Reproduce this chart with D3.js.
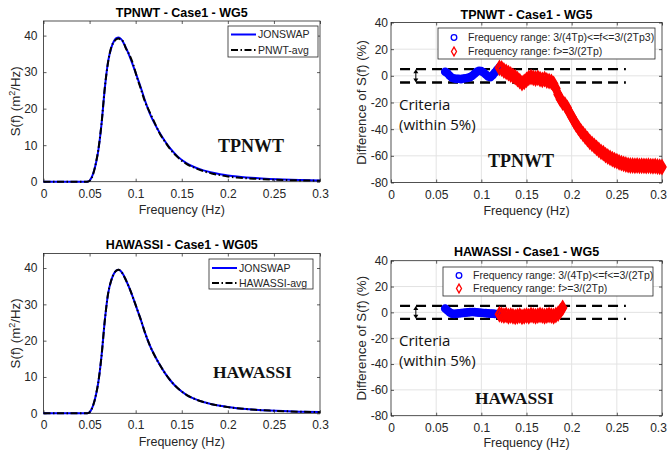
<html>
<head>
<meta charset="utf-8">
<style>
  body { margin: 0; padding: 0; background: #fff; }
  svg { font-family: "Liberation Sans", Arial, sans-serif; }
  .tick text { fill: #262626; font-size: 12px; }
  .tick line { stroke: #262626; stroke-width: 0.75; }
</style>
</head>
<body>
<svg id="fig" width="669" height="451"></svg>
<script src="https://d3js.org/d3.v7.min.js"></script>
<script>
// ---- spectra (left panels) ----
var freqS = [0, 0.02, 0.04, 0.046, 0.0485, 0.051, 0.054, 0.057, 0.0595, 0.063, 0.0665, 0.07, 0.0735,
  0.0765, 0.079, 0.0815, 0.084, 0.0865, 0.089, 0.093, 0.0975, 0.1015, 0.105, 0.11, 0.1155, 0.121,
  0.1265, 0.132, 0.1375, 0.146, 0.155, 0.164, 0.1735, 0.1825, 0.1915, 0.2, 0.21, 0.22, 0.23, 0.245,
  0.26, 0.28, 0.3];
var jonswapS = [0, 0, 0, 0, 0.05, 0.6, 2.3, 5.2, 8.6, 15.9, 25.5, 32.8, 36.6,
  38.5, 39.3, 39.5, 39.1, 38.2, 36.9, 34.6, 31.6, 28.7, 26.2, 22.3, 18.6, 15.7,
  13.2, 11.0, 9.1, 6.8, 5.1, 3.95, 3.1, 2.5, 2.05, 1.72, 1.42, 1.18, 0.98, 0.76,
  0.6, 0.44, 0.33];
var pnwtAvgS = [0, 0, 0, 0, 0.05, 0.5, 2.2, 5.3, 8.8, 16.0, 25.7, 32.6, 36.8,
  38.3, 39.0, 39.2, 38.7, 38.4, 36.7, 34.9, 32.0, 28.5, 25.9, 22.0, 18.9, 15.9,
  13.0, 10.9, 8.9, 6.6, 4.9, 3.8, 2.9, 2.25, 1.8, 1.4, 1.15, 0.95, 0.8, 0.6,
  0.47, 0.35, 0.27];
var hawassiAvgS = [0, 0, 0, 0, 0.05, 0.6, 2.3, 5.2, 8.6, 15.9, 25.5, 32.8, 36.6,
  38.5, 39.3, 39.5, 39.1, 38.2, 36.9, 34.6, 31.6, 28.7, 26.2, 22.3, 18.6, 15.7,
  13.2, 11.0, 9.1, 6.8, 5.1, 3.95, 3.1, 2.5, 2.05, 1.7, 1.4, 1.16, 0.96, 0.75,
  0.59, 0.43, 0.32];

// ---- difference of S(f) in %, sampled every 0.0025 Hz (right panels) ----
var diffStep = 0.0025;
var tpBlueStart = 0.06;
var tpBlue = [3.0, 2.0, 0.0, -1.5, -2.0, -2.3, -2.2, -2.5, -2.0, -1.8, -1.5, -1.0, 0.0,
  1.5, 3.0, 3.8, 3.5, 2.5, 1.0, -0.5, -1.0, 0.5, 2.5, 4.5, 6.5];
var tpRedStart = 0.12;
var tpRed = [6.0, 5.5, 4.0, 3.0, 2.0, 1.0, 0.0, -1.0, -2.5, -4.0, -5.5, -4.5, -3.0, -1.5,
  -1.0, -1.5, -2.0, -1.5, -2.5, -3.0, -2.5, -3.5, -4.0, -4.5, -6.0, -9.5, -14.0, -17.5,
  -20.0, -21.5, -24.0, -27.5, -30.5, -33.5, -36.5, -39.0, -41.5, -43.5, -45.5, -47.5,
  -49.5, -51.0, -52.5, -54.0, -55.5, -57.0, -58.0, -59.5, -60.5, -61.5, -62.5, -63.3,
  -64.0, -64.8, -65.5, -66.0, -66.5, -67.0, -67.2, -67.3, -67.4, -67.3, -67.5, -67.4,
  -67.5, -67.6, -67.4, -67.7, -67.8, -67.6, -68.0, -68.2, -68.4];
var hwBlueStart = 0.06;
var hwBlue = [3.0, 1.5, 0.0, -1.0, -1.2, -1.0, -0.8, -0.6, -0.4, -0.2, 0.0, 0.2, 0.3,
  0.2, 0.0, -0.2, -0.3, -0.5, -0.6, -0.8, -1.0, -1.0, -1.2, -1.3, -1.5];
var hwRedStart = 0.12;
var hwRed = [-1.5, -2.0, -2.5, -2.0, -3.0, -2.5, -3.0, -3.5, -3.0, -2.5, -3.5, -3.0, -2.5,
  -3.0, -2.0, -2.5, -3.0, -2.5, -2.0, -2.5, -3.0, -2.5, -2.0, -2.5, -3.0, -2.0, -1.0, 1.0, 3.5];

var xTicks = [0, 0.05, 0.1, 0.15, 0.2, 0.25, 0.3];
var specTicks = [0, 10, 20, 30, 40];
var diffTicks = [-80, -60, -40, -20, 0, 20, 40];
var criteria = 5;   // +/- 5 %

var svg = d3.select("#fig");
var axisColor = "#262626";

function toPoints(start, vals) {
  return vals.map(function (v, i) { return [start + i * diffStep, v]; });
}

function makeAxes(c) {
  var x = d3.scaleLinear().domain([0, 0.3]).range([c.left, c.right]);
  var y = d3.scaleLinear().domain(c.yDomain).range([c.bottom, c.top]);
  var g = svg.append("g");

  if (c.grid) {
    g.append("g").selectAll("line").data(xTicks.slice(1, -1)).enter().append("line")
      .attr("x1", d => x(d)).attr("x2", d => x(d))
      .attr("y1", c.top).attr("y2", c.bottom)
      .attr("stroke", "#e3e3e3").attr("stroke-width", 1);
    g.append("g").selectAll("line").data(c.yTicks.slice(1, -1)).enter().append("line")
      .attr("x1", c.left).attr("x2", c.right)
      .attr("y1", d => y(d)).attr("y2", d => y(d))
      .attr("stroke", "#e3e3e3").attr("stroke-width", 1);
  }

  var fmt = function (d) { return String(d); };
  var xa = g.append("g").attr("transform", "translate(0," + c.bottom + ")")
    .call(d3.axisBottom(x).tickValues(xTicks).tickFormat(fmt).tickSizeInner(-3).tickSizeOuter(0).tickPadding(7.5))
    .call(s => s.select(".domain").remove());
  // keep the last label inside the page on the right-hand panels
  if (c.right > 600) {
    xa.selectAll(".tick text").filter(d => d === 0.3).attr("dx", -4);
  }
  g.append("g").attr("transform", "translate(0," + c.top + ")")
    .call(d3.axisTop(x).tickValues(xTicks).tickFormat("").tickSizeInner(-3).tickSizeOuter(0))
    .call(s => s.select(".domain").remove());
  g.append("g").attr("transform", "translate(" + c.left + ",0)")
    .call(d3.axisLeft(y).tickValues(c.yTicks).tickFormat(fmt).tickSizeInner(-3).tickSizeOuter(0).tickPadding(c.yPad))
    .call(s => s.select(".domain").remove());
  g.append("g").attr("transform", "translate(" + c.right + ",0)")
    .call(d3.axisRight(y).tickValues(c.yTicks).tickFormat("").tickSizeInner(-3).tickSizeOuter(0))
    .call(s => s.select(".domain").remove());

  g.append("rect")
    .attr("x", c.left).attr("y", c.top)
    .attr("width", c.right - c.left).attr("height", c.bottom - c.top)
    .attr("fill", "none").attr("stroke", axisColor).attr("stroke-width", 0.8);

  g.append("text")
    .attr("x", (c.left + c.right) / 2).attr("y", c.titleY)
    .attr("text-anchor", "middle").attr("font-weight", "bold").attr("font-size", "12.5px")
    .attr("fill", "#000").text(c.title);

  g.append("text")
    .attr("x", (c.left + c.right) / 2).attr("y", c.xLabelY)
    .attr("text-anchor", "middle").attr("font-size", "12.5px")
    .attr("fill", axisColor).text("Frequency (Hz)");

  var yl = g.append("text")
    .attr("transform", "translate(" + c.yLabelX + "," + ((c.top + c.bottom) / 2) + ") rotate(-90)")
    .attr("text-anchor", "middle").attr("font-size", "13.3px").attr("fill", axisColor);
  if (c.spectrum) {
    yl.append("tspan").text("S(f) (m");
    yl.append("tspan").attr("dy", -5).attr("font-size", "9px").text("2");
    yl.append("tspan").attr("dy", 5).text("/Hz)");
  } else {
    yl.text("Difference of S(f) (%)");
  }

  return { g: g, x: x, y: y, c: c };
}

function spectrumPanel(c, avg, avgName) {
  var a = makeAxes(Object.assign({ yDomain: [0, 44], yTicks: specTicks, spectrum: true, yPad: 6, yLabelX: 19.5 }, c));
  var line = d3.line().x((d, i) => a.x(freqS[i])).y(d => a.y(d)).curve(d3.curveMonotoneX);

  a.g.append("path").datum(jonswapS).attr("d", line)
    .attr("fill", "none").attr("stroke", "#0000ff").attr("stroke-width", 2);
  a.g.append("path").datum(avg).attr("d", line)
    .attr("fill", "none").attr("stroke", "#000").attr("stroke-width", 2)
    .attr("stroke-dasharray", "7,2.5,1.5,2.5");

  // legend
  var L = c.legend;
  var lg = a.g.append("g");
  lg.append("rect").attr("x", L.x).attr("y", L.y).attr("width", L.w).attr("height", L.h)
    .attr("fill", "#fff").attr("stroke", axisColor).attr("stroke-width", 0.8);
  var rows = [
    { name: "JONSWAP", color: "#0000ff", dash: null },
    { name: avgName, color: "#000", dash: "7,2.5,1.5,2.5" }
  ];
  rows.forEach(function (r, i) {
    var yy = L.y + L.rowY[i];
    lg.append("line").attr("x1", L.x + 3).attr("x2", L.x + 28).attr("y1", yy).attr("y2", yy)
      .attr("stroke", r.color).attr("stroke-width", 2).attr("stroke-dasharray", r.dash);
    lg.append("text").attr("x", L.x + 30).attr("y", yy + 3.8)
      .attr("font-size", "10.5px").attr("fill", axisColor).text(r.name);
  });

  a.g.append("text").attr("x", c.tag.x).attr("y", c.tag.y)
    .attr("font-family", "'Liberation Serif', 'Times New Roman', serif")
    .attr("font-weight", "bold").attr("font-size", c.tag.size).attr("fill", "#111")
    .text(c.tag.text);
  return a;
}

function diffPanel(c, blue, red) {
  var a = makeAxes(Object.assign({ yDomain: [-80, 40], yTicks: diffTicks, grid: true, yPad: 3, yLabelX: 366 }, c));
  var x = a.x, y = a.y;

  // criteria band
  [criteria, -criteria].forEach(function (v) {
    a.g.append("line").attr("x1", x(0.01)).attr("x2", x(0.26))
      .attr("y1", y(v)).attr("y2", y(v))
      .attr("stroke", "#000").attr("stroke-width", 2.3).attr("stroke-dasharray", "10,6");
  });
  var ax = x(0.0275), y1 = y(criteria), y2 = y(-criteria);
  a.g.append("line").attr("x1", ax).attr("x2", ax).attr("y1", y1 + 2).attr("y2", y2 - 2)
    .attr("stroke", "#000").attr("stroke-width", 1);
  a.g.append("path").attr("d", "M" + ax + "," + y1 + "l-2.5,4h5z").attr("fill", "#000");
  a.g.append("path").attr("d", "M" + ax + "," + y2 + "l-2.5,-4h5z").attr("fill", "#000");

  // dense markers merge into a thick band; a wide stroke through the same points fills the gaps
  var band = d3.line().x(d => x(d[0])).y(d => y(d[1]));
  a.g.append("path").datum(blue).attr("d", band)
    .attr("fill", "none").attr("stroke", "#0000ff").attr("stroke-width", 7)
    .attr("stroke-linejoin", "round").attr("stroke-linecap", "round");
  a.g.append("path").datum(red).attr("d", band)
    .attr("fill", "none").attr("stroke", "#ff0000").attr("stroke-width", 7.5)
    .attr("stroke-linejoin", "round").attr("stroke-linecap", "round");

  a.g.append("g").selectAll("circle").data(blue).enter().append("circle")
    .attr("cx", d => x(d[0])).attr("cy", d => y(d[1])).attr("r", 3.2)
    .attr("fill", "none").attr("stroke", "#0000ff").attr("stroke-width", 2.2);
  var diamond = d3.symbol().type(d3.symbolDiamond).size(45);
  a.g.append("g").selectAll("path").data(red).enter().append("path")
    .attr("transform", d => "translate(" + x(d[0]) + "," + y(d[1]) + ")")
    .attr("d", diamond).attr("fill", "none").attr("stroke", "#ff0000").attr("stroke-width", 2.2);

  // criteria text
  a.g.append("text").attr("x", x(0.0) + 8).attr("y", c.critY)
    .attr("font-family", "'Open Sans', sans-serif").attr("font-size", "15px").attr("fill", "#111")
    .selectAll("tspan").data(["Criteria", "(within 5%)"]).enter().append("tspan")
    .attr("x", x(0.0) + 8).attr("dy", (d, i) => i ? 20.5 : 0).text(d => d);

  // legend
  var L = c.legend;
  var lg = a.g.append("g");
  lg.append("rect").attr("x", L.x).attr("y", L.y).attr("width", L.w).attr("height", L.h)
    .attr("fill", "#fff").attr("stroke", axisColor).attr("stroke-width", 0.8);
  var legDiamond = d3.symbol().type(d3.symbolDiamond).size(22);
  L.labels.forEach(function (t, i) {
    var yy = L.y + L.rowY[i];
    if (i === 0) {
      lg.append("circle").attr("cx", L.x + 16).attr("cy", yy).attr("r", 2.8)
        .attr("fill", "none").attr("stroke", "#0000ff").attr("stroke-width", 1.3);
    } else {
      lg.append("path").attr("transform", "translate(" + (L.x + 16) + "," + yy + ")")
        .attr("d", legDiamond).attr("fill", "none").attr("stroke", "#ff0000").attr("stroke-width", 1.3);
    }
    lg.append("text").attr("x", L.x + 30).attr("y", yy + 3.7)
      .attr("font-size", "10.5px").attr("fill", axisColor).text(t);
  });

  a.g.append("text").attr("x", c.tag.x).attr("y", c.tag.y)
    .attr("font-family", "'Liberation Serif', 'Times New Roman', serif")
    .attr("font-weight", "bold").attr("font-size", c.tag.size).attr("fill", "#111")
    .text(c.tag.text);
  return a;
}

spectrumPanel({
  left: 43.5, right: 320, top: 21, bottom: 181.7,
  title: "TPNWT - Case1 - WG5", titleY: 16.5, xLabelY: 214,
  legend: { x: 228, y: 26, w: 90, h: 31, rowY: [8.5, 24] },
  tag: { x: 218, y: 152, size: "18px", text: "TPNWT" }
}, pnwtAvgS, "PNWT-avg");

spectrumPanel({
  left: 43.5, right: 320, top: 253.5, bottom: 413.3,
  title: "HAWASSI - Case1 - WG05", titleY: 248.5, xLabelY: 446,
  legend: { x: 209, y: 259, w: 104, h: 30, rowY: [9, 24] },
  tag: { x: 213, y: 378, size: "17.5px", text: "HAWASSI" }
}, hawassiAvgS, "HAWASSI-avg");

diffPanel({
  left: 391, right: 662, top: 22.5, bottom: 182.5,
  title: "TPNWT - Case1 - WG5", titleY: 18.5, xLabelY: 214.5, critY: 109.5,
  legend: { x: 438, y: 28, w: 217, h: 31, rowY: [9.5, 23.5],
    labels: ["Frequency range: 3/(4Tp)<=f<=3/(2Tp3)", "Frequency range: f>=3/(2Tp)"] },
  tag: { x: 488, y: 166.5, size: "18px", text: "TPNWT" }
}, toPoints(tpBlueStart, tpBlue), toPoints(tpRedStart, tpRed));

diffPanel({
  left: 391, right: 662, top: 260.7, bottom: 415.7,
  title: "HAWASSI - Case1 - WG5", titleY: 255.5, xLabelY: 446.5, critY: 345.7,
  legend: { x: 443, y: 267, w: 210, h: 29, rowY: [8.5, 21.5],
    labels: ["Frequency range: 3/(4Tp)<=f<=3/(2Tp)", "Frequency range: f>=3/(2Tp)"] },
  tag: { x: 475, y: 404, size: "17.5px", text: "HAWASSI" }
}, toPoints(hwBlueStart, hwBlue), toPoints(hwRedStart, hwRed));
</script>
</body>
</html>
